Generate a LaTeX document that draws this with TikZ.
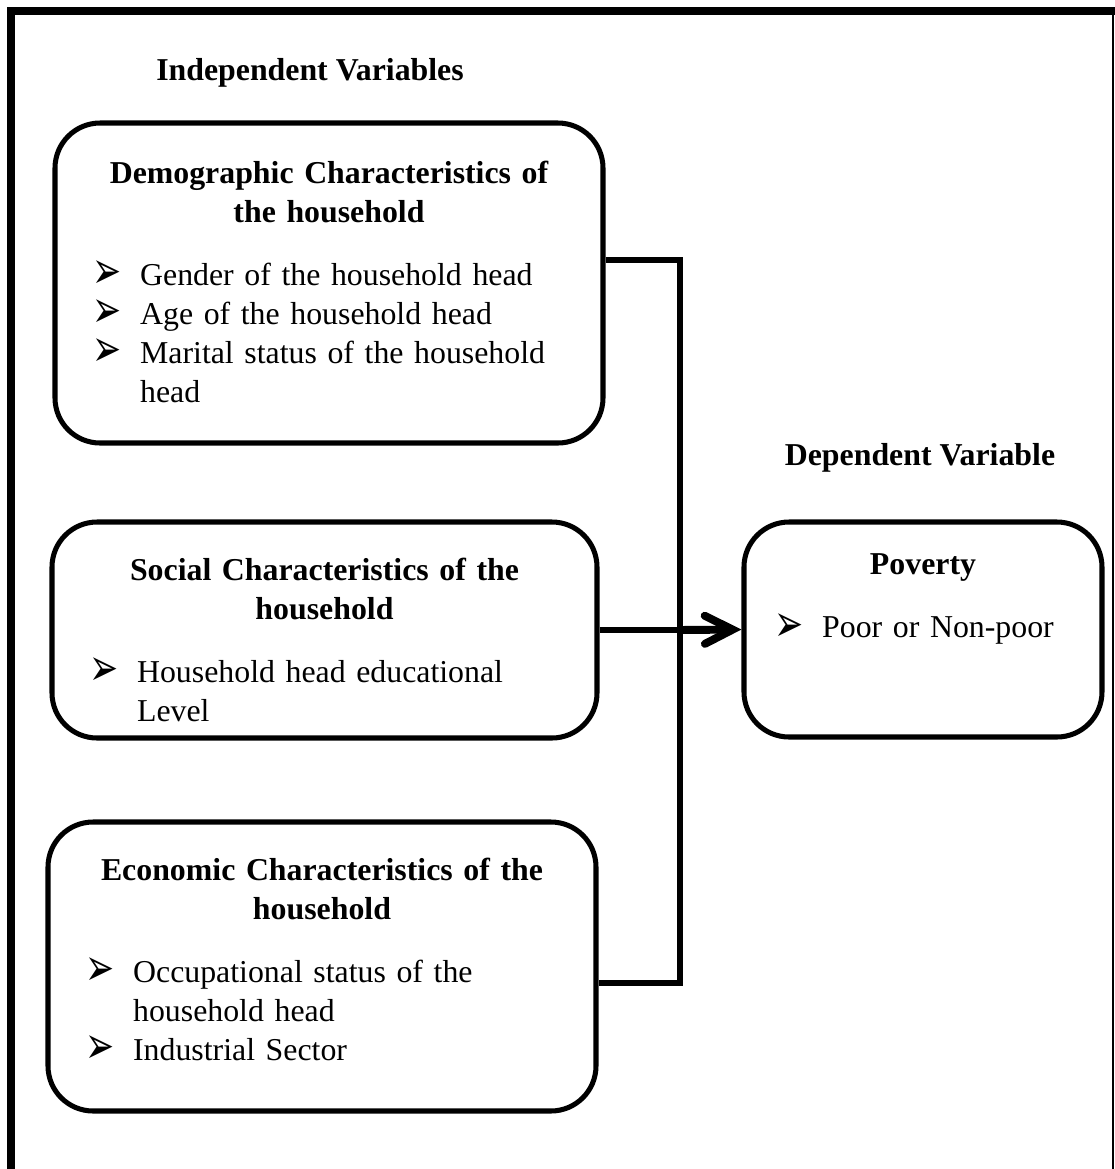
\documentclass[tikz,border=0pt]{standalone}
\usepackage{graphicx}
\usepackage{fontspec}
\setmainfont{Liberation Serif}
\newfontfamily\dingfont{DejaVu Sans}
\usetikzlibrary{calc,arrows.meta,positioning,fit}
\newcommand{\tipmark}{\raisebox{-1.3pt}{\resizebox{11pt}{10.5pt}{\dingfont ➢}}}
\newcommand{\varitem}[1]{\par\hangindent=17pt\hangafter=1\noindent\makebox[17pt][l]{\hspace{-1pt}\tipmark}#1\par}
\newcommand{\boxhead}[1]{{\centering\bfseries #1\par}\vspace{9pt}}

\begin{document}
\begin{tikzpicture}[x=0.377pt,y=-0.377pt,
  varbox/.style={draw,line width=1.9pt,rounded corners=17pt,inner sep=0pt},
  vartext/.style={anchor=north,inner sep=0pt,align=left,font=\fontsize{12}{14.7}\selectfont},
  heading/.style={font=\fontsize{12}{14.7}\selectfont\bfseries,inner sep=0pt},
  link/.style={line width=1.9pt,line join=miter},
  mainarrow/.style={line width=3pt,-{Straight Barb[length=10.5pt,width=10.6pt,line cap=round]}}]
\useasboundingbox (0,0) rectangle (1115,1169);

% outer frame
\draw[line width=3pt] (11,1169) -- (11,11) -- (1115,11);
\draw[line width=1pt] (1113,11) -- (1113,1169);

% headings
\node[heading] (indep) at (310,73) {Independent Variables};
\node[heading] (dep) at (920,458) {Dependent Variable};

% boxes
\node[varbox,fit={(55,123) (603,443)}] (demo) {};
\node[varbox,fit={(52,522) (597,738)}] (social) {};
\node[varbox,fit={(48,822) (596,1111)}] (econ) {};
\node[varbox,fit={(744,522) (1102,737)}] (poverty) {};

\node[vartext,text width=176.4pt] (demotext) at ($(demo.north)+(0,40)$) {
\boxhead{Demographic Characteristics of the household}
\varitem{Gender of the household head}
\varitem{Age of the household head}
\varitem{Marital status of the household head}};

\node[vartext,text width=175.3pt] (socialtext) at ($(social.north)+(0,38)$) {
\boxhead{Social Characteristics of the household}
\varitem{Household head educational Level}};

\node[vartext,text width=176.4pt] (econtext) at ($(econ.north)+(0,38)$) {
\boxhead{Economic Characteristics of the household}
\varitem{Occupational status of the household head}
\varitem{Industrial Sector}};

\node[vartext,text width=110pt] (povertytext) at ($(poverty.north)+(0,34)$) {
\boxhead{Poverty}
\varitem{Poor or Non-poor}};

% connectors
\coordinate (spinetop) at (680,260);
\coordinate (spinebot) at (680,983);
\draw[link] (demo.east |- spinetop) -- (spinetop) -- (spinebot) -- (econ.east |- spinebot);
\draw[link] (social.east) -- (social.east -| spinetop);
\draw[mainarrow] (social.east -| spinetop) -- (poverty.west);
\end{tikzpicture}
\end{document}
